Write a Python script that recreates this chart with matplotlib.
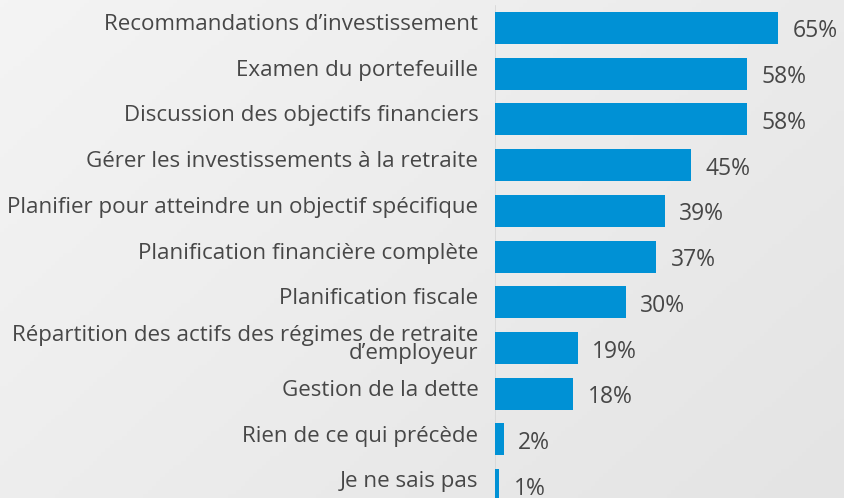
import numpy as np
import matplotlib.pyplot as plt

categories = [
    "Recommandations d\u2019investissement",
    "Examen du portefeuille",
    "Discussion des objectifs financiers",
    "G\u00e9rer les investissements \u00e0 la retraite",
    "Planifier pour atteindre un objectif sp\u00e9cifique",
    "Planification financi\u00e8re compl\u00e8te",
    "Planification fiscale",
    "R\u00e9partition des actifs des r\u00e9gimes de retraite\nd\u2019employeur",
    "Gestion de la dette",
    "Rien de ce qui pr\u00e9c\u00e8de",
    "Je ne sais pas",
]
values = [65, 58, 58, 45, 39, 37, 30, 19, 18, 2, 1]

plt.rcParams['font.family'] = ['Open Sans', 'DejaVu Sans']

fig = plt.figure(figsize=(8.44, 4.98), dpi=100)

# light gray gradient background
bg = fig.add_axes([0, 0, 1, 1], zorder=-10)
gx, gy = np.meshgrid(np.linspace(0, 1, 200), np.linspace(0, 1, 120))
grad = 0.6 * gx + 0.4 * gy
bg.imshow(grad, cmap=plt.matplotlib.colors.LinearSegmentedColormap.from_list(
    "bg", ["#f4f4f4", "#e4e4e4"]), aspect="auto", extent=[0, 1, 1, 0])
bg.axis("off")

ax = fig.add_axes([495 / 844, 0, 348 / 844, 1])
ax.patch.set_alpha(0)
y = np.arange(len(values))
ax.barh(y, values, height=0.70, color="#0091d5", zorder=2)
ax.set_xlim(0, 80)
ax.set_ylim(10.28, -0.613)
for s in ax.spines.values():
    s.set_visible(False)
ax.set_xticks([])
ax.set_yticks([])
ax.axvline(0, ymin=0, ymax=(498 - 6) / 498, color="#d6d6d6", lw=1.2, zorder=1)

txt = "#474747"
for i, (cat, v) in enumerate(zip(categories, values)):
    ax.annotate(cat, (0, i), xytext=(-12, 2.5), textcoords="offset points",
                ha="right", va="center", fontsize=16.1, color=txt,
                multialignment="right", linespacing=0.8,
                annotation_clip=False)
    ax.annotate(f"{v}%", (v, i), xytext=(10.5, -2.5), textcoords="offset points",
                ha="left", va="center", fontsize=16.5, color=txt,
                annotation_clip=False)

fig.savefig("out.png", dpi=100)
